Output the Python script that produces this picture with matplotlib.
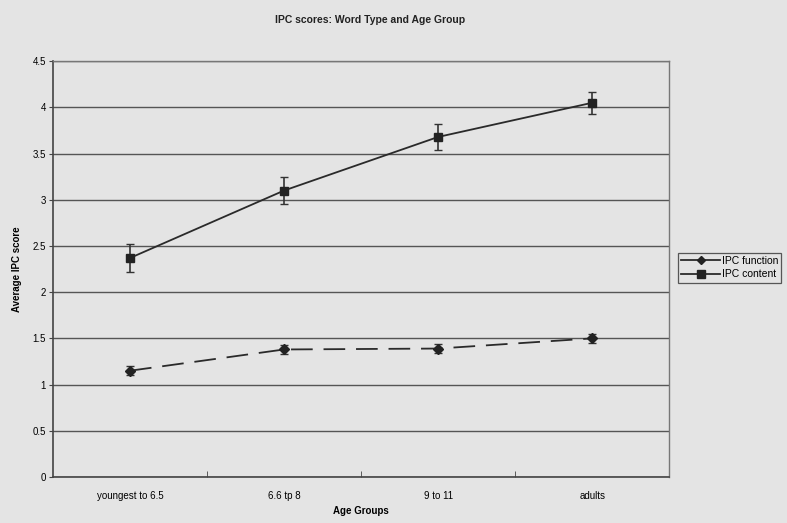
import matplotlib.pyplot as plt
from matplotlib.lines import Line2D
import numpy as np

plt.rcParams['font.family'] = ['Liberation Sans', 'DejaVu Sans']

groups = ['youngest to 6.5', '6.6 tp 8', '9 to 11', 'adults']
ipc_function = [1.15, 1.38, 1.39, 1.50]
function_err = [0.05, 0.05, 0.05, 0.05]
ipc_content = [2.37, 3.10, 3.68, 4.05]
content_err = [0.15, 0.15, 0.14, 0.12]

bg = '#e4e4e4'
fig = plt.figure(figsize=(7.87, 5.23), dpi=100, facecolor=bg)
ax = fig.add_axes([0.0673, 0.088, 0.783, 0.795], facecolor=bg)

x = np.arange(len(groups))
ax.errorbar(x, ipc_function, yerr=function_err, color='#2a2a2a', lw=1.3,
            dashes=(12, 6), marker='D', ms=5, mfc='#222222', mec='#222222',
            ecolor='#333333', elinewidth=1.2, capsize=3)
ax.errorbar(x, ipc_content, yerr=content_err, color='#2a2a2a', lw=1.3,
            marker='s', ms=6, mfc='#222222', mec='#222222',
            ecolor='#333333', elinewidth=1.2, capsize=3)

ax.set_xlim(-0.5, len(groups) - 0.5)
ax.set_ylim(0, 4.5)
ax.set_yticks(np.arange(0, 4.51, 0.5))
ax.set_yticklabels(['0', '0.5', '1', '1.5', '2', '2.5', '3', '3.5', '4', '4.5'])
ax.set_xticks(x)
ax.set_xticklabels(groups)
ax.set_xticks(np.arange(0.5, len(groups) - 1, 1), minor=True)
ax.tick_params(axis='x', which='major', length=0, pad=10, labelsize=7)
ax.tick_params(axis='x', which='minor', length=4, direction='in', color='#444444')
ax.tick_params(axis='y', length=3, color='#444444', labelsize=7, pad=2)
ax.grid(axis='y', color='#555555', lw=1.0)
for side in ['left', 'bottom']:
    ax.spines[side].set_color('#444444')
    ax.spines[side].set_linewidth(1.2)
for side in ['right', 'top']:
    ax.spines[side].set_color('#777777')
    ax.spines[side].set_linewidth(1.0)

ax.set_xlabel('Age Groups', fontsize=7, fontweight='bold', labelpad=4)
ax.set_ylabel('Average IPC score', fontsize=7, fontweight='bold', labelpad=8)
fig.text(0.47, 0.961, 'IPC scores: Word Type and Age Group', ha='center',
         va='center', fontsize=7.5, fontweight='bold', color='#222222')

# legend keys are drawn solid, as in the original spreadsheet chart
handles = [
    Line2D([], [], color='#2a2a2a', lw=1.3, marker='D', ms=4.5,
           mfc='#222222', mec='#222222'),
    Line2D([], [], color='#2a2a2a', lw=1.3, marker='s', ms=5.5,
           mfc='#222222', mec='#222222'),
]
leg = fig.legend(handles, ['IPC function', 'IPC content'], loc='upper left',
                 bbox_to_anchor=(0.861, 0.517), fontsize=7.5,
                 frameon=True, fancybox=False, edgecolor='#333333',
                 facecolor=bg, handlelength=3.8, borderpad=0.3,
                 labelspacing=0.35, handletextpad=0.15, borderaxespad=0)
leg.get_frame().set_linewidth(0.9)

fig.savefig('out.png', dpi=100, facecolor=bg)
